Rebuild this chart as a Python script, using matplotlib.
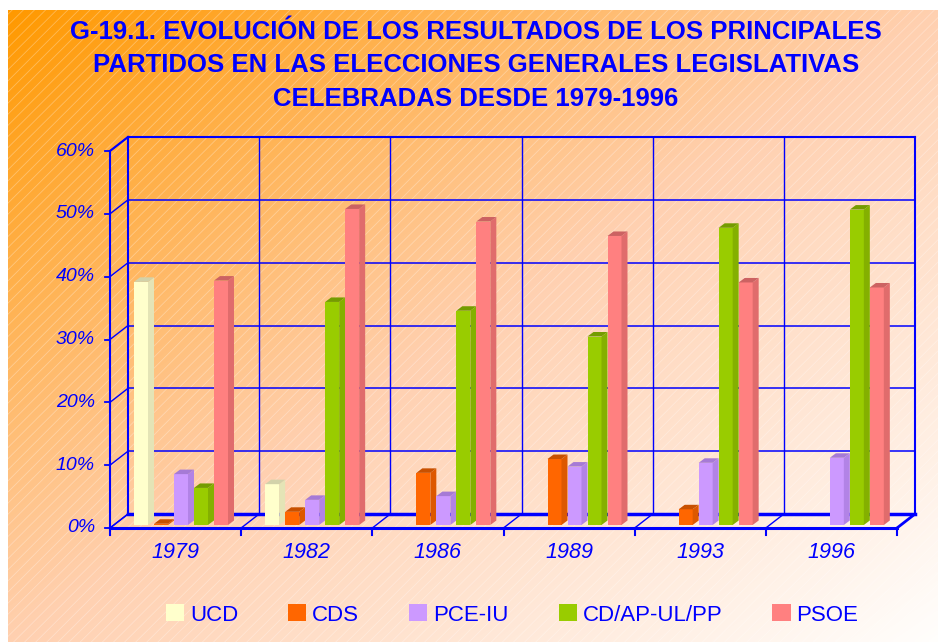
import numpy as np
import matplotlib
matplotlib.use("Agg")
import matplotlib.pyplot as plt
from matplotlib.patches import Rectangle, Polygon
from matplotlib.colors import LinearSegmentedColormap

plt.rcParams['font.family'] = ['Liberation Sans', 'DejaVu Sans']
plt.rcParams['hatch.linewidth'] = 0.6

# data (% of votes)
years = ['1979', '1982', '1986', '1989', '1993', '1996']
parties = ['UCD', 'CDS', 'PCE-IU', 'CD/AP-UL/PP', 'PSOE']
ucd = [38.7, 6.5, 0, 0, 0, 0]
cds = [0.2, 2.1, 8.3, 10.5, 2.5, 0]
pce_iu = [8.1, 4.0, 4.6, 9.3, 9.9, 10.7]
cd_ap_pp = [5.9, 35.5, 34.1, 30.0, 47.3, 50.2]
psoe = [38.9, 50.3, 48.3, 46.0, 38.6, 37.8]
y_ticks = [0, 10, 20, 30, 40, 50, 60]

series = [ucd, cds, pce_iu, cd_ap_pp, psoe]
front_colors = ['#FFFFCC', '#FF6600', '#CC99FF', '#99CC00', '#FF8080']
side_colors = ['#E4E4B6', '#DD5800', '#B283E6', '#84B000', '#E06C6C']
top_colors = ['#D2D2AA', '#C85000', '#A67AD6', '#749C00', '#CC6262']
BLUE = '#0000FF'

W, H = 938, 642
fig = plt.figure(figsize=(W / 100, H / 100), dpi=100)

# background: diagonal orange -> white gradient with faint hatching
bg = fig.add_axes([0, 0, 1, 1])
bg.set_xlim(0, W)
bg.set_ylim(H, 0)
bg.axis('off')
gx, gy = np.meshgrid(np.linspace(0, 1, 300), np.linspace(0, 1, 200))
t = (gx + gy) / 2
cmap = LinearSegmentedColormap.from_list('bg', [(0, '#FF9900'), (0.5, '#FFD0B0'), (1, '#FFFEFC')])
bg.imshow(t, cmap=cmap, extent=(8, W, H, 10), aspect='auto', vmin=0, vmax=1, interpolation='bilinear')
bg.add_patch(Rectangle((8, 10), W - 8, H - 10, facecolor='none', edgecolor=(1, 1, 1, 0.3),
                       hatch='///', linewidth=0))

# main axes in data units (categories x, percent y), mapped onto pixel anchors
X0, X1, Y0, Y60 = 110, 897, 528, 151
px_x = (X1 - X0) / 6
px_y = (Y0 - Y60) / 60
ax = fig.add_axes([0, 0, 1, 1])
ax.patch.set_alpha(0)
ax.set_xlim(-0.5 - X0 / px_x, -0.5 + (W - X0) / px_x)
ax.set_ylim(-(H - Y0) / px_y, Y0 / px_y)
ax.axis('off')

DX, DY = 18 / px_x, 14 / px_y
left, right = -0.5, 5.5

# back wall
for v in y_ticks:
    lw = 2.5 if v == 0 else (1.5 if v == 60 else 1.1)
    ax.plot([left + DX, right + DX], [v + DY, v + DY], color=BLUE, lw=lw, zorder=1)
    ax.plot([left, left + DX], [v, v + DY], color=BLUE, lw=1.0, zorder=1)
    ax.plot([left - 5 / px_x, left], [v, v], color=BLUE, lw=1.3, zorder=1)
    ax.text(left - 15 / px_x, v, f'{v}%', ha='right', va='center', fontsize=14,
            style='italic', color=BLUE)
for k in range(7):
    xb = left + k
    lw = 1.5 if k in (0, 6) else 1.0
    ax.plot([xb + DX, xb + DX], [DY, 60 + DY], color=BLUE, lw=lw, zorder=1)
    ax.plot([xb, xb + DX], [0, DY], color=BLUE, lw=2.0 if k == 6 else 1.0, zorder=1)
    ax.plot([xb, xb], [0, -7 / px_y], color=BLUE, lw=1.5, zorder=1)
ax.plot([left, left], [0, 60], color=BLUE, lw=1.5, zorder=1)
ax.plot([left, left + DX], [60, 60 + DY], color=BLUE, lw=1.5, zorder=1)

# bars
slot = 20 / px_x
bw = 14 / px_x
start = 24 / px_x
base = (Y0 - 525) / px_y
ddx, ddy = 6 / px_x, 4.5 / px_y
x = np.arange(len(years))
for i, vals in enumerate(series):
    lefts = x - 0.5 + start + i * slot
    vals = np.array(vals, dtype=float)
    shown = vals > 0
    ax.bar(lefts[shown], vals[shown], width=bw, bottom=base, align='edge',
           color=front_colors[i], linewidth=0, zorder=3)
    for lx, v in zip(lefts[shown], vals[shown]):
        top = base + v
        ax.add_patch(Polygon([(lx + bw, base), (lx + bw + ddx, base + ddy),
                              (lx + bw + ddx, top + ddy), (lx + bw, top)],
                             closed=True, facecolor=side_colors[i], linewidth=0, zorder=3))
        ax.add_patch(Polygon([(lx, top), (lx + bw, top), (lx + bw + ddx, top + ddy),
                              (lx + ddx, top + ddy)],
                             closed=True, facecolor=top_colors[i], linewidth=0, zorder=3))

# front floor edge
ax.plot([left, right], [0, 0], color=BLUE, lw=2.2, zorder=4)

for k, yr in enumerate(years):
    ax.text(k, -(553 - Y0) / px_y, yr, ha='center', va='center', fontsize=15.5,
            style='italic', color=BLUE)

# title
title_lines = ['G-19.1. EVOLUCIÓN DE LOS RESULTADOS DE LOS PRINCIPALES',
               'PARTIDOS EN LAS ELECCIONES GENERALES LEGISLATIVAS',
               'CELEBRADAS DESDE 1979-1996']
for line, yp in zip(title_lines, [32, 65, 99.5]):
    fig.text(476 / W, 1 - yp / H, line, ha='center', va='center', fontsize=18.5,
             fontweight='bold', color=BLUE)

handles = [Rectangle((0, 0), 1, 1, facecolor=c, linewidth=0) for c in front_colors]
fig.legend(handles, parties, loc='center', bbox_to_anchor=(512 / W, 1 - 615 / H), ncol=5,
           frameon=False, fontsize=16, labelcolor=BLUE, handlelength=0.82,
           handleheight=0.78, handletextpad=0.25, columnspacing=2.26)

fig.savefig('out.png', dpi=100)
